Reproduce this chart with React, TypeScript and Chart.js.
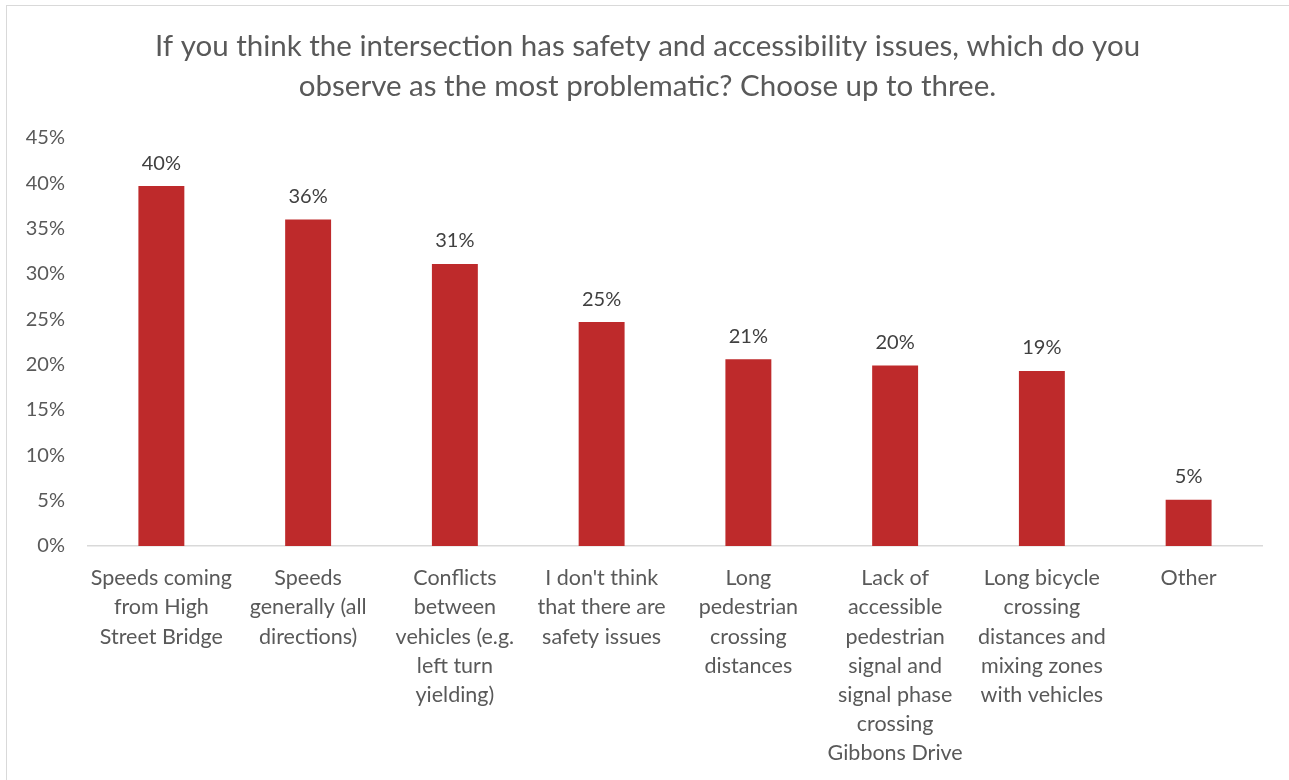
import React, { useEffect, useRef } from "react";
import { Chart, registerables } from "chart.js";

Chart.register(...registerables);

const titleLines = [
  "If you think the intersection has safety and accessibility issues, which do you",
  "observe as the most problematic? Choose up to three.",
];

const categories: string[][] = [
  ["Speeds coming", "from High", "Street Bridge"],
  ["Speeds", "generally (all", "directions)"],
  ["Conflicts", "between", "vehicles (e.g.", "left turn", "yielding)"],
  ["I don't think", "that there are", "safety issues"],
  ["Long", "pedestrian", "crossing", "distances"],
  ["Lack of", "accessible", "pedestrian", "signal and", "signal phase", "crossing", "Gibbons Drive"],
  ["Long bicycle", "crossing", "distances and", "mixing zones", "with vehicles"],
  ["Other"],
];

const values = [39.7, 36.0, 31.1, 24.7, 20.6, 19.9, 19.3, 5.1];

const yMin = 0;
const yMax = 45;
const yStep = 5;

const FONT = "Lato, 'Open Sans', sans-serif";

const titlePlugin = {
  id: "customTitle",
  afterDraw(chart: any) {
    const ctx = chart.ctx;
    ctx.save();
    ctx.font = `29.5px ${FONT}`;
    ctx.fillStyle = "#595959";
    ctx.textAlign = "center";
    ctx.textBaseline = "middle";
    titleLines.forEach((line, i) => {
      ctx.fillText(line, chart.width / 2 + 3, 46 + i * 40);
    });
    ctx.restore();
  },
};

const dataLabelPlugin = {
  id: "dataLabels",
  afterDatasetsDraw(chart: any) {
    const ctx = chart.ctx;
    const meta = chart.getDatasetMeta(0);
    ctx.save();
    ctx.font = `20px ${FONT}`;
    ctx.fillStyle = "#404040";
    ctx.textAlign = "center";
    ctx.textBaseline = "bottom";
    meta.data.forEach((bar: any, i: number) => {
      ctx.fillText(Math.round(values[i]) + "%", bar.x, bar.y - 13);
    });
    ctx.restore();
  },
};

export default function App() {
  const ref = useRef<HTMLCanvasElement>(null);
  useEffect(() => {
    if (!ref.current) return;
    const chart = new Chart(ref.current, {
      type: "bar",
      data: {
        labels: categories,
        datasets: [
          {
            data: values,
            backgroundColor: "#BE2A2B",
            categoryPercentage: 1,
            barPercentage: 0.313,
          },
        ],
      },
      options: {
        responsive: false,
        animation: false,
        layout: { padding: { left: 0, right: 27, top: 138, bottom: 0 } },
        plugins: {
          legend: { display: false },
          tooltip: { enabled: false },
          title: { display: false },
        },
        scales: {
          x: {
            grid: { display: false, drawTicks: false },
            border: { display: true, color: "#D9D9D9", width: 1.5 },
            ticks: {
              color: "#595959",
              font: { family: FONT, size: 21.5, lineHeight: 1.35 },
              padding: 18,
              maxRotation: 0,
              autoSkip: false,
            },
            afterFit(scale: any) {
              scale.height = 234;
            },
          },
          y: {
            min: yMin,
            max: yMax,
            grid: { display: false, drawTicks: false },
            border: { display: false },
            ticks: {
              stepSize: yStep,
              color: "#595959",
              font: { family: FONT, size: 20 },
              padding: 23,
              callback: (v: any) => v + "%",
            },
            afterFit(scale: any) {
              scale.width = 88;
            },
          },
        },
      },
      plugins: [dataLabelPlugin, titlePlugin],
    });
    return () => chart.destroy();
  }, []);

  return (
    <div style={{ position: "fixed", left: 0, top: 0, width: 1289, height: 780, background: "#fff", overflow: "hidden" }}>
      <div
        style={{
          position: "absolute",
          left: 6,
          top: 5,
          width: 1300,
          height: 800,
          border: "1.5px solid #D9D9D9",
          boxSizing: "border-box",
        }}
      />
      <canvas ref={ref} width={1289} height={780} style={{ position: "absolute", left: 0, top: 0 }} />
    </div>
  );
}
